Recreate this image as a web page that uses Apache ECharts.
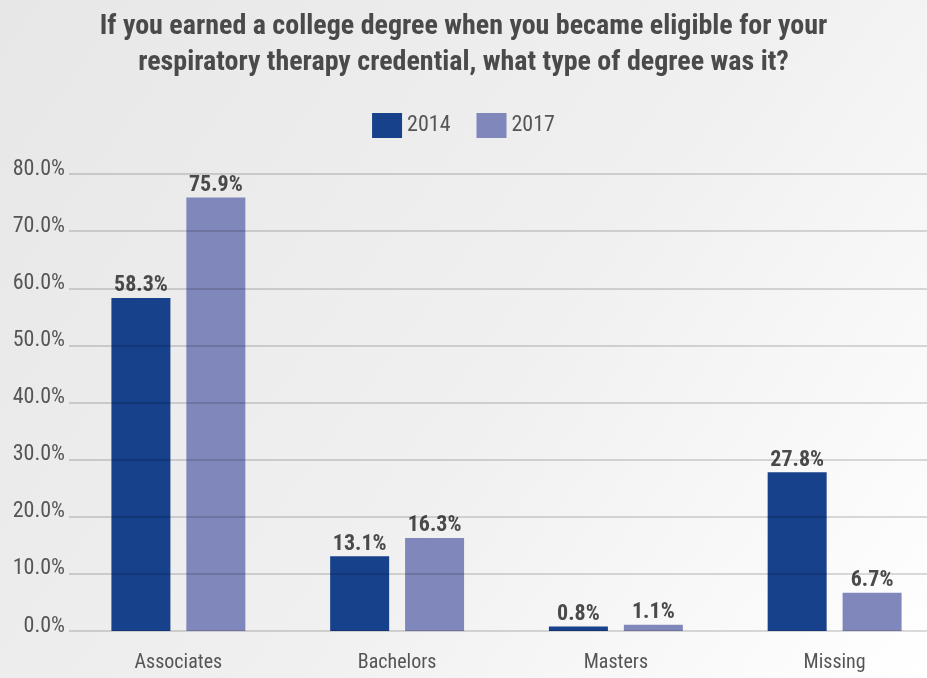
<!DOCTYPE html>
<html>
<head>
<meta charset="utf-8">
<script src="https://cdn.jsdelivr.net/npm/echarts@6/dist/echarts.min.js"></script>
<style>
  html, body { margin: 0; padding: 0; }
  #chart { width: 927px; height: 678px; }
</style>
</head>
<body>
<div id="chart"></div>
<script>
// Degree types and share of respondents per survey year (percent)
const categories = ['Associates', 'Bachelors', 'Masters', 'Missing'];
const values2014 = [58.3, 13.1, 0.8, 27.8];
const values2017 = [75.9, 16.3, 1.1, 6.7];
const seriesNames = ['2014', '2017'];

const FONT = '"Roboto Condensed", "DejaVu Sans Condensed", sans-serif';
const TEXT = '#4a4a4a';

const chart = echarts.init(document.getElementById('chart'));

const labelStyle = {
  show: true,
  position: 'top',
  distance: 1,
  formatter: p => p.value.toFixed(1) + '%',
  fontFamily: FONT,
  fontWeight: 'bold',
  fontSize: 22,
  color: TEXT
};

chart.setOption({
  backgroundColor: {
    type: 'linear', x: 0, y: 0, x2: 1, y2: 1,
    colorStops: [
      { offset: 0, color: '#e7e7e7' },
      { offset: 0.55, color: '#f0f0f0' },
      { offset: 1, color: '#ffffff' }
    ]
  },
  animation: false,
  title: {
    text: 'If you earned a college degree when you became eligible for your\nrespiratory therapy credential, what type of degree was it?',
    left: 'center',
    top: 4,
    textStyle: {
      fontFamily: FONT,
      fontWeight: 'bold',
      fontSize: 28,
      lineHeight: 36,
      color: TEXT
    }
  },
  legend: {
    data: seriesNames,
    top: 108,
    left: 'center',
    icon: 'rect',
    itemWidth: 30,
    itemHeight: 25,
    itemGap: 26,
    textStyle: { fontFamily: FONT, fontSize: 22, color: '#555' }
  },
  // the plot runs past the right edge so the gridlines reach the border
  grid: { left: 69, width: 875, top: 174, bottom: 47, outerBoundsMode: 'none' },
  xAxis: {
    type: 'category',
    data: categories,
    axisLine: { show: false },
    axisTick: { show: false },
    axisLabel: { fontFamily: FONT, fontSize: 20, color: '#555', margin: 22 }
  },
  yAxis: {
    type: 'value',
    min: 0,
    max: 80,
    interval: 10,
    z: 5,
    axisLine: { show: false },
    axisTick: { show: false },
    axisLabel: {
      formatter: v => v.toFixed(1) + '%',
      fontFamily: FONT,
      fontSize: 22,
      color: '#555',
      margin: 4,
      // tick labels sit slightly above their gridline
      verticalAlign: 'bottom',
      lineHeight: 10
    },
    splitLine: { lineStyle: { color: 'rgba(0,0,0,0.14)', width: 2 } }
  },
  series: [
    {
      name: seriesNames[0],
      type: 'bar',
      data: values2014,
      barWidth: 59,
      barGap: '27%',
      itemStyle: { color: '#17418a' },
      label: labelStyle
    },
    {
      name: seriesNames[1],
      type: 'bar',
      data: values2017,
      barWidth: 59,
      barGap: '27%',
      itemStyle: { color: '#8087ba' },
      label: labelStyle
    }
  ]
});
</script>
</body>
</html>
